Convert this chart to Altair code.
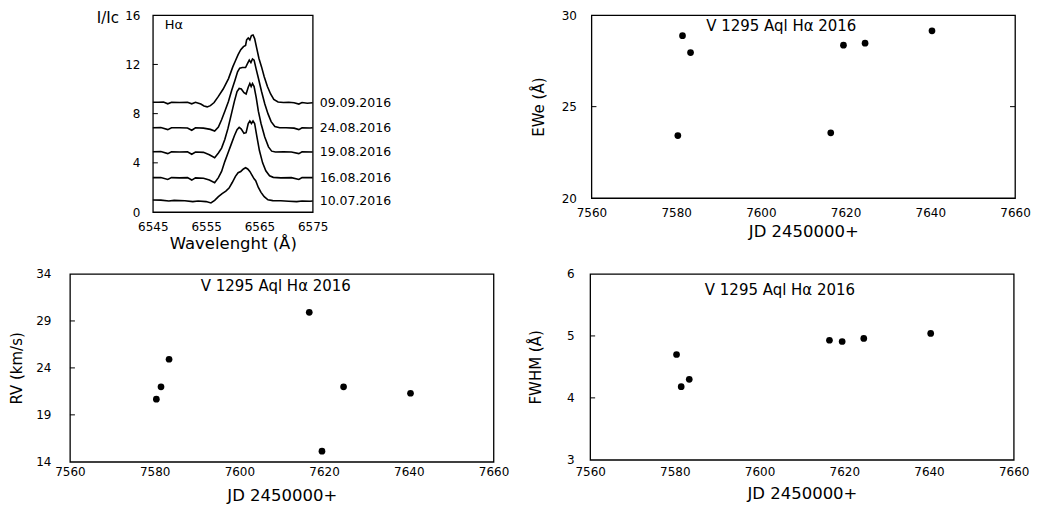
import altair as alt
import pandas as pd

FONT = "DejaVu Sans"

# ---------------- data ----------------
dates = ["09.09.2016", "24.08.2016", "19.08.2016", "16.08.2016", "10.07.2016"]

wl_0909 = [6545, 6546, 6547, 6547.8, 6548.5, 6550, 6551.5, 6552.3, 6553, 6554, 6554.6, 6555.2, 6555.8,
           6556.5, 6557.3, 6558.2, 6559.2, 6560, 6560.5, 6561, 6561.5, 6562, 6562.4, 6562.6, 6562.9,
           6563.2, 6563.5, 6563.8, 6564.1, 6564.5, 6564.9, 6565.4, 6565.9, 6566.5, 6567.1, 6567.7,
           6568.5, 6569.5, 6570.5, 6571.5, 6572.4, 6573, 6574, 6575]
i_0909 = [8.93, 8.92, 8.95, 8.8, 8.93, 8.9, 8.92, 8.8, 8.92, 8.78, 8.62, 8.55, 8.65,
          8.9, 9.4, 10.0, 10.85, 11.8, 12.3, 12.8, 13.2, 13.45, 13.55, 14.0, 14.15,
          14.0, 14.35, 14.4, 14.1, 13.3, 12.5, 11.8, 11.0, 10.2, 9.6, 9.15,
          8.95, 8.9, 8.92, 8.88, 8.78, 8.9, 8.85, 8.88]

wl_2408 = [6545, 6546.5, 6547.8, 6548.5, 6550, 6551.5, 6552.3, 6553, 6554.5, 6555.8, 6556.6, 6557.3,
           6557.9, 6558.6, 6559.2, 6559.8, 6560.4, 6560.9, 6561.3, 6561.8, 6562.4, 6562.8, 6563.1,
           6563.4, 6563.7, 6564.0, 6564.4, 6564.8, 6565.4, 6566, 6566.6, 6567.2, 6567.9, 6568.8,
           6570, 6571.5, 6572.4, 6573, 6574.5, 6575]
i_2408 = [6.85, 6.87, 6.7, 6.85, 6.85, 6.83, 6.65, 6.85, 6.82, 6.72, 6.58, 6.9,
          7.5, 8.3, 9.0, 9.9, 10.7, 11.4, 11.7, 11.75, 11.75, 12.1, 12.35,
          12.15, 12.45, 12.35, 11.6, 10.9, 9.8, 8.8, 8.0, 7.35, 6.95, 6.85,
          6.85, 6.82, 6.7, 6.85, 6.83, 6.85]

wl_1908 = [6545, 6546.5, 6547.8, 6548.5, 6550, 6551.5, 6552.3, 6553, 6554.5, 6555.6, 6556.6, 6557.3,
           6557.9, 6558.5, 6559.1, 6559.7, 6560.3, 6560.8, 6561.2, 6561.6, 6562.1, 6562.5, 6562.9,
           6563.2, 6563.45, 6563.7, 6564.0, 6564.4, 6564.8, 6565.3, 6566, 6566.7, 6567.3, 6568,
           6569.5, 6571, 6572.4, 6573, 6575]
i_1908 = [4.9, 4.92, 4.75, 4.9, 4.88, 4.9, 4.7, 4.88, 4.85, 4.65, 4.42, 4.8,
          5.2, 5.9, 6.8, 7.9, 9.0, 9.8, 10.05, 10.0, 9.7, 9.6, 10.15,
          10.45, 10.2, 10.45, 10.2, 9.3, 8.2, 7.2, 6.1, 5.3, 4.95, 4.88,
          4.9, 4.88, 4.75, 4.9, 4.88]

wl_1608 = [6545, 6546.5, 6547.8, 6548.5, 6550, 6551.5, 6552.3, 6553, 6554.5, 6555.6, 6556.6, 6557.3,
           6557.9, 6558.5, 6559.1, 6559.7, 6560.3, 6560.8, 6561.2, 6561.6, 6562.1, 6562.5, 6562.9,
           6563.2, 6563.5, 6563.8, 6564.1, 6564.5, 6565, 6565.6, 6566.2, 6566.9, 6567.6, 6569,
           6571, 6572.4, 6573, 6575]
i_1608 = [2.8, 2.8, 2.65, 2.8, 2.78, 2.8, 2.6, 2.78, 2.75, 2.6, 2.38, 2.8,
          3.3, 4.1, 4.8, 5.5, 6.2, 6.7, 6.88, 6.75, 6.4, 6.45, 7.2,
          7.4, 7.2, 7.4, 7.2, 6.2, 5.0, 4.0, 3.35, 2.95, 2.82, 2.78,
          2.8, 2.65, 2.8, 2.8]

wl_1007 = [6545, 6546.5, 6548, 6549, 6551, 6552.5, 6553.5, 6555, 6555.9, 6556.6, 6557.3, 6558,
           6558.7, 6559.3, 6559.9, 6560.5, 6561, 6561.5, 6562, 6562.4, 6562.8, 6563.2, 6563.6,
           6564, 6564.3, 6564.8, 6565.3, 6565.9, 6566.6, 6567.5, 6569, 6570.5, 6572, 6573,
           6574.5, 6575]
i_1007 = [0.98, 0.97, 0.9, 0.95, 0.92, 0.85, 0.9, 0.85, 0.74, 0.95, 1.25, 1.5,
          1.7, 1.95, 2.4, 2.9, 3.2, 3.3, 3.5, 3.6, 3.5, 3.3, 3.0,
          2.7, 2.55, 2.0, 1.6, 1.25, 1.0, 0.93, 0.92, 0.88, 0.85, 0.9,
          0.88, 0.9]

spectra_wl = [wl_0909, wl_2408, wl_1908, wl_1608, wl_1007]
spectra_i = [i_0909, i_2408, i_1908, i_1608, i_1007]

wl_ticks = [6545, 6555, 6565, 6575]
int_ticks = [0, 4, 8, 12, 16]

jd = [7580.4, 7581.5, 7583.4, 7616.5, 7619.5, 7624.6, 7640.4]
ewe = [23.42, 28.88, 27.96, 23.57, 28.36, 28.47, 29.15]
rv = [20.67, 21.98, 24.92, 29.92, 15.13, 21.98, 21.3]
fwhm = [4.70, 4.18, 4.30, 4.93, 4.91, 4.96, 5.04]
jd_ticks = [7560, 7580, 7600, 7620, 7640, 7660]

panel_label = "V 1295 Aql Hα 2016"

# ---------------- tables ----------------
rows = []
for d, wls, ints in zip(dates, spectra_wl, spectra_i):
    for k, (w_, v_) in enumerate(zip(wls, ints)):
        rows.append({"date": d, "wl": w_, "I": v_, "k": k})
spec_df = pd.DataFrame(rows)
date_df = pd.DataFrame({"date": dates, "I": [s[-1] for s in spectra_i]})

XT = 16.5  # x-axis title size


def x_axis(title, lab_pad, title_pad, values):
    return alt.Axis(values=values, title=title, labelPadding=lab_pad, titlePadding=title_pad,
                    titleFontSize=XT, format="d", labelFlush=False, labelOverlap=False,
                    ticks=False, tickSize=0, domain=False, grid=False)


# ---------------- panel A: profiles ----------------
WA, HA = 160, 197
xA = alt.X("wl:Q", scale=alt.Scale(domain=[6545, 6575], nice=False),
           axis=x_axis("Wavelenght (Å)", 9, 3, wl_ticks))
yA = alt.Y("I:Q", scale=alt.Scale(domain=[0, 16], nice=False),
           axis=alt.Axis(values=int_ticks, title="I/Ic", titleAngle=0, titleX=-45.5, titleY=2,
                         titleAlign="center", titleBaseline="middle", minExtent=60, maxExtent=60,
                         labelPadding=13, labelFlush=False, labelOverlap=False, ticks=False,
                         tickSize=0, domain=False, grid=False))

lines = alt.Chart(spec_df).mark_line(color="black", strokeWidth=1.6).encode(
    x=xA, y=yA, detail="date:N", order="k:Q")
date_txt = alt.Chart(date_df).mark_text(align="left", baseline="middle", font=FONT,
                                        fontSize=12.5, color="black").encode(
    x=alt.value(WA + 7), y=yA, text="date:N")
ticksA = alt.Chart(pd.DataFrame({"I": int_ticks[1:-1]})).mark_rule(color="black").encode(
    x=alt.value(0), x2=alt.value(5), y=yA)
halpha = alt.Chart(pd.DataFrame({"t": ["Hα"]})).mark_text(
    align="left", baseline="middle", font=FONT, fontSize=13, color="black").encode(
    x=alt.value(12), y=alt.value(10), text="t:N")
A = alt.layer(lines, ticksA, date_txt, halpha).properties(width=WA, height=HA)


# ---------------- scatter panels ----------------
def scatter(vals, ydom, yticks, inner, ytitle, w, h, title_x, extent, lab_pad_y,
            lab_pad_x, title_pad_x, txt_x, txt_y, right_inner=None):
    df = pd.DataFrame({"jd": jd, "v": vals})
    xe = alt.X("jd:Q", scale=alt.Scale(domain=[7560, 7660], nice=False),
               axis=x_axis("JD 2450000+", lab_pad_x, title_pad_x, jd_ticks))
    ye = alt.Y("v:Q", scale=alt.Scale(domain=ydom, nice=False),
               axis=alt.Axis(values=yticks, title=ytitle, titleAngle=270, titleX=title_x,
                             titleY=h / 2, titleAlign="center", titleBaseline="middle",
                             minExtent=extent, maxExtent=extent, labelPadding=lab_pad_y,
                             labelFlush=False, labelOverlap=False, ticks=False, tickSize=0,
                             domain=False, grid=False))
    pts = alt.Chart(df).mark_circle(size=45, color="black", opacity=1).encode(x=xe, y=ye)
    layers = [pts]
    tdf = pd.DataFrame({"v": inner})
    layers.append(alt.Chart(tdf).mark_rule(color="black").encode(
        x=alt.value(0), x2=alt.value(5), y=ye))
    if right_inner:
        rdf = pd.DataFrame({"v": right_inner})
        layers.append(alt.Chart(rdf).mark_rule(color="black").encode(
            x=alt.value(w - 5), x2=alt.value(w), y=ye))
    txt = alt.Chart(pd.DataFrame({"t": [panel_label]})).mark_text(
        align="center", baseline="middle", font=FONT, fontSize=15, color="black").encode(
        x=alt.value(txt_x), y=alt.value(txt_y), text="t:N")
    layers.append(txt)
    return alt.layer(*layers).properties(width=w, height=h)


B = scatter(ewe, [20, 30], [20, 25, 30], [25], "EWe (Å)", 424, 183, -53, 188, 15, 9, 5,
            190, 11, right_inner=[25])
C = scatter(rv, [14, 34], [14, 19, 24, 29, 34], [19, 24, 29], "RV (km/s)", 424, 188, -53.5, 40,
            19, 5, 10, 206, 12.5)
D = scatter(fwhm, [3, 6], [3, 4, 5, 6], [4, 5], "FWHM (Å)", 424, 186, -55, 65, 16, 7, 8,
            190, 16)

# invisible spacer that shifts the first row to the right
S = alt.Chart(pd.DataFrame({"a": [0]})).mark_point(opacity=0, size=1).encode(
    x=alt.value(1), y=alt.value(1)).properties(
    width=12, height=10, view={"stroke": "transparent", "strokeOpacity": 0})

row1 = alt.hconcat(S, A, B, spacing=10)
row2 = alt.hconcat(C, D, spacing=14.7)

chart = alt.vconcat(row1, row2, spacing=14).properties(padding=0).configure_view(
    stroke="black", strokeWidth=1.3).configure_axis(
    labelFont=FONT, labelFontSize=12, labelColor="black", titleFont=FONT, titleFontSize=15,
    titleColor="black", titleFontWeight="normal")

chart.save("out.html", embed_options={"renderer": "svg", "actions": False})
